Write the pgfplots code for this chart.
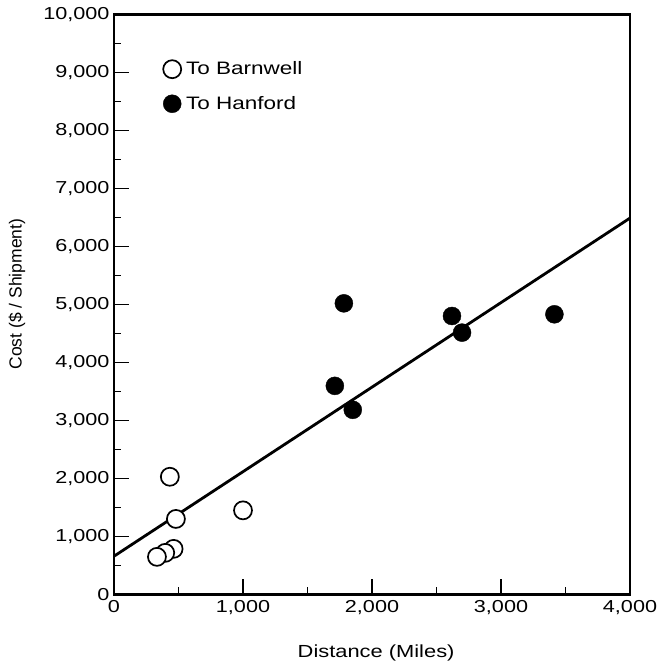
\documentclass[border=0pt]{standalone}
\usepackage{fontspec}
\setmainfont{Liberation Sans}[FakeStretch=1.25]
\newfontfamily\plainfont{Liberation Sans}
\usepackage{pgfplots}
\pgfplotsset{compat=1.18}
\begin{document}
\begin{tikzpicture}
\begin{axis}[
 scale only axis, width=516pt, height=580pt,
 xmin=0, xmax=4000, ymin=0, ymax=10000,
 xtick={0,1000,2000,3000,4000},
 ytick={0,1000,2000,3000,4000,5000,6000,7000,8000,9000,10000},
 minor x tick num=1, minor y tick num=1,
 tick pos=left, tick align=inside,
 major tick length=15pt, minor tick length=7pt,
 every tick/.style={line width=1.6pt, black},
 axis line style={line width=2.8pt},
 scaled ticks=false,
 /pgf/number format/assume math mode=true,
 /pgf/number format/1000 sep={,},
 font=\fontsize{17.5}{20}\selectfont,
 ticklabel style={font=\fontsize{17.3}{20}\selectfont},
 xticklabel style={yshift=-2pt},
 yticklabel style={xshift=-1pt},
 xlabel={Distance (Miles)}, ylabel={Cost (\$ / Shipment)},
 xlabel style={at={(axis description cs:0.508,-0.1)}, anchor=center},
 ylabel style={font=\plainfont\fontsize{17.5}{19}\selectfont, at={(axis description cs:-0.188,0.518)}, anchor=center},
 legend style={at={(0.095,0.922)}, anchor=north west, draw=none, fill=none, inner sep=0pt,
   row sep=16pt, font=\fontsize{18}{20}\selectfont},
 legend cell align=left,
]
\addplot[only marks, mark=*, mark size=9pt, mark options={fill=white, draw=black, line width=1.7pt}]
 coordinates {(433,2030) (480,1303) (1000,1451) (462,787) (397,718) (333,649)};
\addlegendentry{\,To Barnwell}
\addplot[only marks, mark=*, mark size=9pt, mark options={fill=black, draw=black}]
 coordinates {(1782,5020) (2620,4802) (2698,4515) (3414,4831) (1712,3597) (1851,3184)};
\addlegendentry{\,To Hanford}
\addplot[black, line width=2.8pt, forget plot] coordinates {(0,660) (4000,6490)};
\end{axis}
\pgfresetboundingbox
\path ([xshift=-114pt, yshift=-68.5pt]current axis.south west) rectangle ([xshift=30pt, yshift=14.5pt]current axis.north east);
\end{tikzpicture}
\end{document}
